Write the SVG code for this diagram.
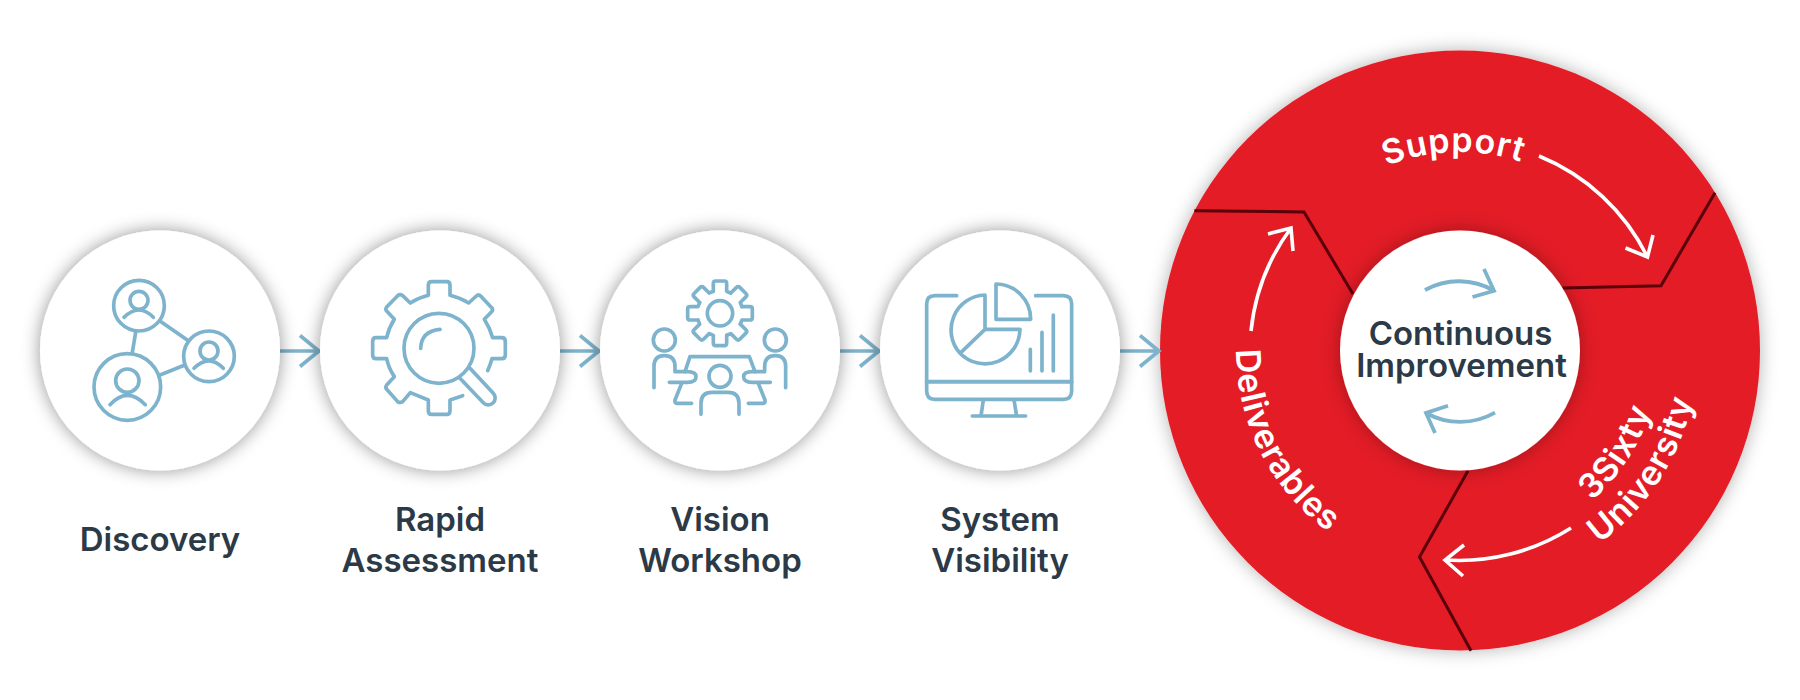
<svg xmlns="http://www.w3.org/2000/svg" xmlns:xlink="http://www.w3.org/1999/xlink" width="1800" height="700" viewBox="0 0 1800 700">
<style>
.label{font-family:"Inter","Lato","Liberation Sans",sans-serif;font-weight:600;font-size:33px;fill:#2b3a46;text-anchor:middle}
.w{font-family:"Inter","Lato","Liberation Sans",sans-serif;font-weight:600;font-size:34px;letter-spacing:.8px;fill:#fff;text-anchor:middle}
.ic{fill:none;stroke:#7db3cc;stroke-width:11;stroke-linecap:round;stroke-linejoin:round}
.disc{fill:#fff;filter:url(#sh)}
.flow{fill:none;stroke:#7db3cc;stroke-width:3.6}
.wa{fill:none;stroke:#fff;stroke-width:3.6}
.ba{fill:none;stroke:#7db3cc;stroke-width:3.8}
.sep{fill:none;stroke:#5a0009;stroke-width:3;stroke-linejoin:miter}
</style>
<defs>
<filter id="sh" x="-20%" y="-20%" width="140%" height="140%"><feDropShadow dx="0" dy="0" stdDeviation="9" flood-color="#000" flood-opacity=".42"/></filter>
<filter id="sh2" x="-20%" y="-20%" width="140%" height="140%"><feDropShadow dx="0" dy="0" stdDeviation="9" flood-color="#000" flood-opacity=".3"/></filter>
<path id="tooth" d="M-20,-66 V-90 q0,-7 7,-7 H13 q7,0 7,7 V-66 L32,-61"/>
<path id="p-support" d="M1303.6,228 A198,198 0 0 1 1608,219"/>
<path id="p-3sixty" d="M1484.4,549 A200,200 0 0 0 1651.3,292"/>
<path id="p-univ" d="M1489,586.7 A238,238 0 0 0 1687.6,281"/>
<path id="p-deliv" d="M1253.8,263 A224,224 0 0 0 1409.6,568.8"/>
</defs>

<g id="node-continuous">
<circle cx="1460" cy="350.5" r="300" fill="#e31c25" filter="url(#sh2)"/>
<path class="sep" d="M1194.4,210.7 L1304,212 L1353,294"/>
<path class="sep" d="M1715,192.7 L1661,285.7 L1562.5,288"/>
<path class="sep" d="M1468,470.7 L1419.5,557 L1471,650.7"/>
<circle cx="1460" cy="350.5" r="120" fill="#fff" filter="url(#sh2)"/>
<text class="label" x="1460.5" y="345">Continuous</text>
<text class="label" x="1461.5" y="377">Improvement</text>
<text class="w"><textPath href="#p-support" startOffset="50%">Support</textPath></text>
<text class="w"><textPath href="#p-3sixty" startOffset="50%">3Sixty</textPath></text>
<text class="w"><textPath href="#p-univ" startOffset="50%">University</textPath></text>
<text class="w"><textPath href="#p-deliv" startOffset="50%">Deliverables</textPath></text>
<path class="wa" d="M1539,156 A209,209 0 0 1 1647.5,257 M1625.5,248 L1647.5,257 L1653,235"/>
<path class="wa" d="M1571,528 A209,209 0 0 1 1445,560 M1464,545 L1445,560 L1463,576"/>
<path class="wa" d="M1251,331 A209,209 0 0 1 1291,228 M1268,234 L1291,228 L1293,251"/>
<path class="ba" d="M1425,290 A70,70 0 0 1 1494,290.7 M1484,269 L1494,290.7 L1472.5,297"/>
<path class="ba" d="M1495,412.7 A70,70 0 0 1 1426,413 M1448,405.7 L1426,413 L1435,433"/>
</g>

<g id="connectors">
<path class="flow" d="M280,351 H318 M300,335.5 L319,351 L300,366.5"/>
<path class="flow" d="M560,351 H598 M580,335.5 L599,351 L580,366.5"/>
<path class="flow" d="M840,351 H878 M860,335.5 L879,351 L860,366.5"/>
<path class="flow" d="M1120,351 H1158 M1140,335.5 L1159,351 L1140,366.5"/>
</g>

<g id="node-discovery">
<circle class="disc" cx="160" cy="350.5" r="120"/>
<g class="ic" transform="translate(70,260) scale(.3333)">
<circle cx="207" cy="137" r="76"/><circle cx="417" cy="289" r="76"/><circle cx="172" cy="381" r="100"/>
<path d="M197,217 L187,277 M273,185 L353,241 M270,345 L343,316"/>
<circle cx="207" cy="121" r="27"/><path d="M162,172 Q207,128 250,172"/>
<circle cx="417" cy="273" r="27"/><path d="M372,325 Q417,280 460,325"/>
<circle cx="172" cy="362" r="35"/><path d="M120,434 Q172,378 226,434"/>
</g>
<text class="label" x="160" y="551">Discovery</text>
</g>

<g id="node-rapid-assessment">
<circle class="disc" cx="440" cy="350.5" r="120"/>
<g class="ic" transform="translate(350,260) scale(.3333)">
<path d="M338,407 L300,420 V452 Q300,463 290,463 H245 Q235,463 235,452 V420 L181,398 L158,425 Q150,430 143,425 L110,388 Q105,382 110,375 L133,350 Q116,325 110,296 H78 Q68,296 68,285 V245 Q68,233 78,233 H110 Q116,205 133,178 L110,153 Q105,148 110,141 L143,107 Q150,101 158,107 L181,129 Q206,113 235,106 V75 Q235,65 245,65 H290 Q300,65 300,75 V106 Q330,113 356,129 L379,108 Q385,102 392,108 L425,143 Q431,149 425,155 L403,178 Q420,205 428,233 H455 Q466,233 466,245 V285 Q466,296 455,296 H426 Q421,314 413,332"/>
<circle cx="267" cy="265" r="105"/>
<path d="M212,265 Q214,213 270,208"/>
<path d="M330,355 L400,428 A20,20 0 0 0 430,400 L360,325"/>
</g>
<text class="label" x="440" y="531">Rapid</text>
<text class="label" x="440" y="572">Assessment</text>
</g>

<g id="node-vision-workshop">
<circle class="disc" cx="720" cy="350.5" r="120"/>
<g class="ic" transform="translate(630,260) scale(.3333)">
<g transform="translate(270,160)">
<use href="#tooth"/><use href="#tooth" transform="rotate(45)"/><use href="#tooth" transform="rotate(90)"/><use href="#tooth" transform="rotate(135)"/><use href="#tooth" transform="rotate(180)"/><use href="#tooth" transform="rotate(225)"/><use href="#tooth" transform="rotate(270)"/><use href="#tooth" transform="rotate(315)"/>
<circle r="38"/>
</g>
<circle cx="103" cy="240" r="33"/><circle cx="436" cy="240" r="33"/><circle cx="270" cy="349" r="33"/>
<path d="M72,383 V320 Q72,287 103,287 Q135,287 135,320 V335 H172 Q198,335 198,350 Q198,367 172,367 H118"/>
<path d="M467,383 V320 Q467,287 436,287 Q404,287 404,320 V335 H367 Q341,335 341,350 Q341,367 367,367 H421"/>
<path d="M165,335 L180,290 H358 L375,335"/>
<path d="M155,370 L135,420 Q133,430 143,430 H185 M385,370 L405,420 Q407,430 397,430 H355"/>
<path d="M213,463 V430 Q213,397 246,397 H294 Q327,397 327,430 V463"/>
</g>
<text class="label" x="720" y="531">Vision</text>
<text class="label" x="720" y="572">Workshop</text>
</g>

<g id="node-system-visibility">
<circle class="disc" cx="1000" cy="350.5" r="120"/>
<g class="ic" transform="translate(910,260) scale(.3333)">
<path d="M140,107 H75 Q50,107 50,132 V392 Q50,418 75,418 H460 Q485,418 485,392 V132 Q485,107 460,107 H377"/>
<path d="M50,365 H485" stroke-width="12"/>
<path d="M220,420 L213,468 M312,420 L320,468 M187,468 H347"/>
<path d="M225,105 V208 H330 A105,105 0 0 1 150,280 L225,208 M150,280 A105,105 0 0 1 225,105"/>
<path d="M258,72 V178 H362 A105,105 0 0 0 258,72 Z"/>
<path d="M361,268 V333 M396,217 V333 M430,165 V333"/>
</g>
<text class="label" x="1000" y="531">System</text>
<text class="label" x="1000" y="572">Visibility</text>
</g>
</svg>
